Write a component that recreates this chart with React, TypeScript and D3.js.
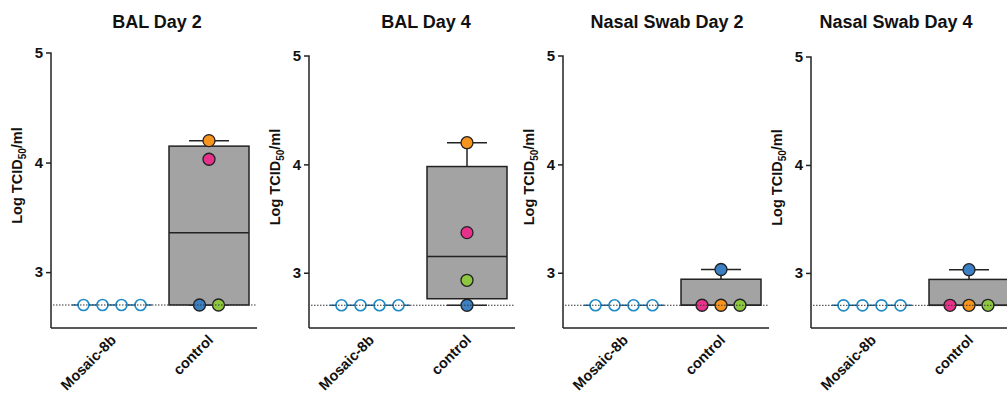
import React, { useEffect, useRef } from "react";
import * as d3 from "d3";

// panel titles
const titles = ["BAL Day 2", "BAL Day 4", "Nasal Swab Day 2", "Nasal Swab Day 4"];
const categories = ["Mosaic-8b", "control"];
const yTicks = [3, 4, 5];
const limitOfDetection = 2.7;

// Mosaic-8b: every animal at the detection limit
const mosaicValues = [2.7, 2.7, 2.7, 2.7];
const mosaicSlots = [-1.5, -0.5, 0.5, 1.5];

// control animals (orange, pink, blue, green)
const animalColors = ["#f7941d", "#e8318a", "#3a80c3", "#8dc63f"];
const controlValues = [
  [4.2, 4.03, 2.7, 2.7],
  [4.2, 3.37, 2.7, 2.93],
  [2.7, 2.7, 3.03, 2.7],
  [2.7, 2.7, 3.03, 2.7],
];
const controlSlots = [
  [0, 0, -0.5, 0.5],
  [0, 0, 0, 0],
  [0, -1, 0, 1],
  [0, -1, 0, 1],
];

// box stats: [min, q1, median, q3, max]
const controlBoxes = [
  [2.7, 2.7, 3.36, 4.15, 4.2],
  [2.7, 2.76, 3.15, 3.98, 4.2],
  [2.7, 2.7, 2.7, 2.94, 3.03],
  [2.7, 2.7, 2.7, 2.94, 3.03],
];

// layout of the four panels (pixels)
const panelX = [51, 309, 563, 811];
const panelTop = [53, 56, 56, 57];
const titleX = [157, 426, 667, 896];

const App = () => {
  const ref = useRef<SVGSVGElement>(null);

  useEffect(() => {
    const svg = d3.select(ref.current);
    svg.selectAll("*").remove();

    const font = "'Liberation Sans', Arial, sans-serif";
    const bottom = 328;
    const plotW = 206;
    const boxHalf = 40;
    const jitter = 19;

    titles.forEach((title, p) => {
      const x0 = panelX[p];
      const g = svg.append("g");

      const y = d3.scaleLinear().domain([2.49, 5]).range([bottom, panelTop[p]]);
      const x = d3.scalePoint<string>()
        .domain(categories)
        .range([x0 + 61, x0 + 158]);

      // title
      g.append("text")
        .attr("x", titleX[p])
        .attr("y", 28)
        .attr("text-anchor", "middle")
        .style("font-family", font)
        .style("font-weight", "bold")
        .style("font-size", "18px")
        .attr("fill", "#111")
        .text(title);

      // y label
      const yl = g.append("text")
        .attr("transform", `translate(${x0 - 29},${(bottom + panelTop[p]) / 2 - 15}) rotate(-90)`)
        .attr("text-anchor", "middle")
        .style("font-family", font)
        .style("font-weight", "bold")
        .style("font-size", "14.5px")
        .attr("fill", "#111");
      yl.append("tspan").text("Log TCID");
      yl.append("tspan").attr("dy", 4).style("font-size", "10px").text("50");
      yl.append("tspan").attr("dy", -4).text("/ml");

      // y axis
      const yAxis = g.append("g")
        .attr("transform", `translate(${x0},0)`)
        .call(d3.axisLeft(y).tickValues(yTicks).tickSize(5).tickPadding(3).tickFormat(d3.format("d")));
      yAxis.select(".domain")
        .attr("d", `M-5,${y(5)}H0V${bottom}`)
        .attr("stroke", "#222")
        .attr("stroke-width", 1.5);
      yAxis.selectAll(".tick line").attr("stroke", "#222").attr("stroke-width", 1.5);
      yAxis.selectAll(".tick text")
        .style("font-family", font)
        .style("font-weight", "bold")
        .style("font-size", "15px")
        .attr("fill", "#111");
      yAxis.selectAll(".tick").filter((d) => d === 5).select("line").remove();

      // x axis
      g.append("line")
        .attr("x1", x0).attr("x2", x0 + plotW)
        .attr("y1", bottom).attr("y2", bottom)
        .attr("stroke", "#222").attr("stroke-width", 1.5);

      categories.forEach((c) => {
        g.append("text")
          .attr("transform", `translate(${(x(c) as number) + 5},${bottom + 13}) rotate(-45)`)
          .attr("text-anchor", "end")
          .style("font-family", font)
          .style("font-weight", "bold")
          .style("font-size", "14.5px")
          .attr("fill", "#111")
          .text(c);
      });

      // control box + whiskers
      const cx = x("control") as number;
      const [mn, q1, med, q3, mx] = controlBoxes[p];
      g.append("line")
        .attr("x1", cx).attr("x2", cx)
        .attr("y1", y(q3)).attr("y2", y(mx))
        .attr("stroke", "#222").attr("stroke-width", 1.5);
      g.append("line")
        .attr("x1", cx - 20).attr("x2", cx + 20)
        .attr("y1", y(mx)).attr("y2", y(mx))
        .attr("stroke", "#222").attr("stroke-width", 1.5);
      g.append("line")
        .attr("x1", cx - 20).attr("x2", cx + 20)
        .attr("y1", y(mn)).attr("y2", y(mn))
        .attr("stroke", "#222").attr("stroke-width", 1.5);
      g.append("rect")
        .attr("x", cx - boxHalf).attr("width", boxHalf * 2)
        .attr("y", y(q3)).attr("height", y(q1) - y(q3))
        .attr("fill", "#a3a3a3")
        .attr("stroke", "#222").attr("stroke-width", 1.5);
      g.append("line")
        .attr("x1", cx - boxHalf).attr("x2", cx + boxHalf)
        .attr("y1", y(med)).attr("y2", y(med))
        .attr("stroke", "#222").attr("stroke-width", 1.5);

      // Mosaic-8b collapsed box
      const mx0 = x("Mosaic-8b") as number;
      const mMed = d3.median(mosaicValues) as number;
      g.append("line")
        .attr("x1", mx0 - boxHalf).attr("x2", mx0 + boxHalf)
        .attr("y1", y(mMed)).attr("y2", y(mMed))
        .attr("stroke", "#1a6fa8").attr("stroke-width", 1.5);

      // points
      g.selectAll(".mos")
        .data(mosaicValues)
        .enter()
        .append("circle")
        .attr("cx", (d, i) => mx0 + mosaicSlots[i] * jitter)
        .attr("cy", (d) => y(d))
        .attr("r", 5.5)
        .attr("fill", "#fff")
        .attr("stroke", "#1f8ac6")
        .attr("stroke-width", 1.6);

      g.selectAll(".ctl")
        .data(controlValues[p])
        .enter()
        .append("circle")
        .attr("cx", (d, i) => cx + controlSlots[p][i] * jitter)
        .attr("cy", (d) => y(d))
        .attr("r", 6)
        .attr("fill", (d, i) => animalColors[i])
        .attr("stroke", "#222")
        .attr("stroke-width", 1.3);

      // limit of detection
      g.append("line")
        .attr("x1", x0 + 2).attr("x2", x0 + plotW)
        .attr("y1", y(limitOfDetection)).attr("y2", y(limitOfDetection))
        .attr("stroke", "#333")
        .attr("stroke-width", 1)
        .attr("stroke-dasharray", "1.5,1.5");
    });
  }, []);

  return (
    <svg
      ref={ref}
      width={1007}
      height={394}
      style={{ position: "absolute", left: 0, top: 0, background: "#fff" }}
    />
  );
};

export default App;
